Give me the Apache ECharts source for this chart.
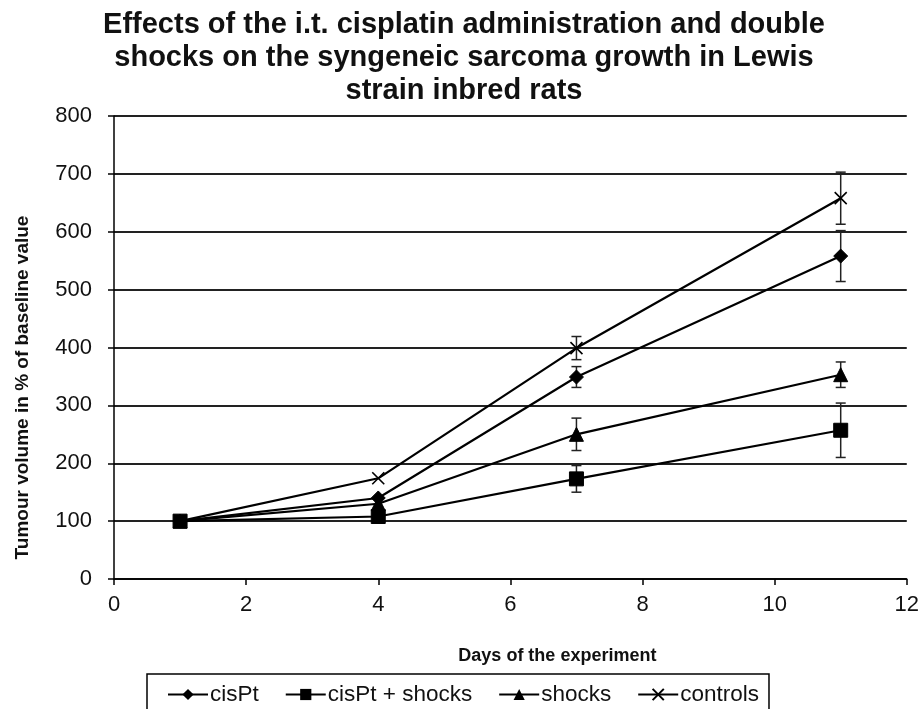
<!DOCTYPE html>
<html>
<head>
<meta charset="utf-8">
<script src="https://cdn.jsdelivr.net/npm/echarts@6/dist/echarts.min.js"></script>
<style>
  html, body { margin: 0; padding: 0; background: #fff; }
  #chart { width: 922px; height: 709px; }
</style>
</head>
<body>
<div id="chart"></div>
<script>
// data
const days = [1, 4, 7, 11]
const cisPt = [100, 140, 349, 558]
const cisPtErr = [0, 0, 18, 44]
const cisPtShocks = [100, 108, 173, 257]
const cisPtShocksErr = [0, 0, 23, 47]
const shocks = [100, 130, 250, 353]
const shocksErr = [0, 0, 28, 22]
const controls = [100, 174, 399, 658]
const controlsErr = [0, 0, 20, 45]

const yTicks = [0, 100, 200, 300, 400, 500, 600, 700, 800]
const xTicks = [0, 2, 4, 6, 8, 10, 12]

const FONT = 'Liberation Sans, Arial, sans-serif'
const crossPath = 'path://M0,0L10,10M10,0L0,10'

const chart = echarts.init(document.getElementById('chart'))

const pairs = (vals) => days.map((d, i) => [d, vals[i]])
const errData = (vals, errs) =>
  days.map((d, i) => [d, vals[i] - errs[i], vals[i] + errs[i]]).filter((r, i) => errs[i] > 0)

// error bars drawn through the axis scale
const errorBars = (name, vals, errs) => ({
  name: name + ' err',
  type: 'custom',
  z: 1,
  silent: true,
  renderItem: (params, api) => {
    const lo = api.coord([api.value(0), api.value(1)])
    const hi = api.coord([api.value(0), api.value(2)])
    const w = 5
    const style = { stroke: '#222', lineWidth: 1.5 }
    return {
      type: 'group',
      children: [
        { type: 'line', shape: { x1: lo[0], y1: lo[1], x2: hi[0], y2: hi[1] }, style },
        { type: 'line', shape: { x1: lo[0] - w, y1: lo[1], x2: lo[0] + w, y2: lo[1] }, style },
        { type: 'line', shape: { x1: hi[0] - w, y1: hi[1], x2: hi[0] + w, y2: hi[1] }, style }
      ]
    }
  },
  encode: { x: 0, y: [1, 2] },
  data: errData(vals, errs)
})

const lineSeries = (name, vals, symbol, size, extra) => Object.assign({
  name,
  type: 'line',
  z: 3,
  data: pairs(vals),
  symbol,
  symbolSize: size,
  showAllSymbol: true,
  lineStyle: { color: '#000', width: 2.2 },
  itemStyle: { color: '#000', borderColor: '#000' }
}, extra || {})

const option = {
  animation: false,
  title: {
    text: 'Effects of the i.t. cisplatin administration and double\nshocks on the syngeneic sarcoma growth in Lewis\nstrain inbred rats',
    left: 459,
    textAlign: 'center',
    top: 3,
    textStyle: { fontFamily: FONT, fontWeight: 'bold', fontSize: 29, lineHeight: 33, color: '#111' }
  },
  grid: { left: 114, right: 12, top: 116, bottom: 130, containLabel: false },
  xAxis: {
    type: 'value',
    min: 0,
    max: 12,
    interval: 2,
    name: 'Days of the experiment',
    nameLocation: 'middle',
    nameGap: 68,
    nameTextStyle: { fontFamily: FONT, fontWeight: 'bold', fontSize: 18, color: '#111', padding: [0, 0, 0, 94] },
    axisLine: { show: true, onZero: false, lineStyle: { color: '#000', width: 1.5 } },
    axisTick: { show: true, inside: false, length: 6, lineStyle: { color: '#000', width: 1.5 } },
    axisLabel: { fontFamily: FONT, fontSize: 22, color: '#111', margin: 15,
      formatter: (v) => xTicks.includes(v) ? String(v) : '' },
    splitLine: { show: false }
  },
  yAxis: {
    type: 'value',
    min: 0,
    max: 800,
    interval: 100,
    name: 'Tumour volume in % of baseline value',
    nameLocation: 'middle',
    nameGap: 82,
    nameTextStyle: { fontFamily: FONT, fontWeight: 'bold', fontSize: 19, color: '#111', padding: [0, 80, 0, 0] },
    axisLine: { show: true, lineStyle: { color: '#000', width: 1.5 } },
    axisTick: { show: true, inside: false, length: 6, lineStyle: { color: '#000', width: 1.5 } },
    axisLabel: { fontFamily: FONT, fontSize: 22, color: '#111', margin: 22,
      formatter: (v) => yTicks.includes(v) ? String(v) : '' },
    splitLine: { show: true, lineStyle: { color: '#222', width: 2 } }
  },
  legend: {
    left: 147,
    top: 674,
    data: ['cisPt', 'cisPt + shocks', 'shocks', 'controls'],
    backgroundColor: '#fff',
    borderColor: '#000',
    borderWidth: 1.5,
    borderRadius: 0,
    padding: [9, 10, 12, 20],
    itemGap: 26,
    itemWidth: 40,
    itemHeight: 14,
    textStyle: { fontFamily: FONT, fontSize: 22.5, color: '#111', padding: [0, 0, 0, -3] }
  },
  series: [
    errorBars('cisPt', cisPt, cisPtErr),
    errorBars('cisPt + shocks', cisPtShocks, cisPtShocksErr),
    errorBars('shocks', shocks, shocksErr),
    errorBars('controls', controls, controlsErr),
    lineSeries('cisPt', cisPt, 'diamond', 14),
    lineSeries('cisPt + shocks', cisPtShocks, 'rect', 14),
    lineSeries('shocks', shocks, 'triangle', 14),
    lineSeries('controls', controls, crossPath, 12, {
      itemStyle: { color: 'transparent', borderColor: '#000', borderWidth: 1.6 }
    })
  ]
}

chart.setOption(option)

window.addEventListener('resize', () => {
  chart.resize()
})
</script>
</body>
</html>
